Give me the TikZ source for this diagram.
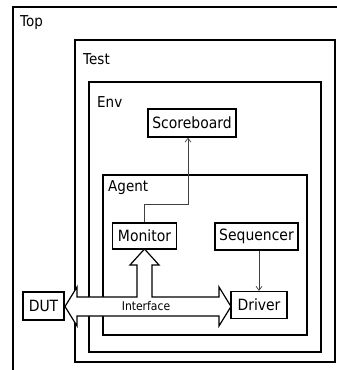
\documentclass[tikz,border=0pt]{standalone}
\usepackage{fontspec}
\setmainfont{DejaVu Sans}[FakeStretch=0.9]
\usetikzlibrary{arrows.meta}
\begin{document}
\begin{tikzpicture}[x=1pt,y=-1pt,
  frame/.style={draw=black,line width=1.3pt},
  blk/.style={draw=black,line width=1.2pt,fill=white,inner sep=0pt,font=\fontsize{15.5}{17}\selectfont},
  lbl/.style={anchor=base west,inner sep=0pt,font=\fontsize{15}{17}\selectfont},
  conn/.style={draw=black!75,line width=0.7pt,-{Straight Barb[length=4pt,width=6pt]}},
  bigarrow/.style={draw=black,line width=1.2pt,fill=white,line join=miter}]
\useasboundingbox (0,0) rectangle (337,370);
\clip (0,0) rectangle (337,370);
\fill[white] (0,0) rectangle (337,370);
% frames
\draw[frame] (13,7) rectangle (360,390);
\draw[frame] (75,40) rectangle (335,362);
\draw[frame] (89,82) rectangle (321,352);
\draw[frame] (103,175) rectangle (307,335);
\node[lbl] (ltop) at (20,26) {Top};
\node[lbl] (ltest) at (83,64) {Test};
\node[lbl] (lenv) at (97,107) {Env};
\node[lbl] (lagent) at (108,191) {Agent};
% block arrow (interface)
\draw[bigarrow] (65,306.5) -- (77,287) -- (77,297) -- (137,297) -- (137,265) -- (130,265)
  -- (144.5,249) -- (159,265) -- (152,265) -- (152,297) -- (219,297) -- (219,287)
  -- (231,306.5) -- (219,326) -- (219,316) -- (77,316) -- (77,326) -- cycle;
\node[inner sep=0pt,font=\fontsize{12}{14}\selectfont] (iface) at (146,306) {Interface};
% blocks
\node[blk,minimum width=88pt,minimum height=28pt] (sb) at (192,123) {Scoreboard};
\node[blk,minimum width=64pt,minimum height=26pt] (mon) at (144.5,236) {Monitor};
\node[blk,minimum width=83pt,minimum height=27pt] (seq) at (256.5,236.5) {Sequencer};
\node[blk,minimum width=56pt,minimum height=27pt] (drv) at (259,305) {Driver};
\node[blk,minimum width=41pt,minimum height=28pt] (dut) at (43.5,306) {DUT};
% connectors
\coordinate (bend) at (188,204);
\draw[conn] (mon.north) |- (bend) -- (bend |- sb.south);
\draw[conn] (drv.north |- seq.south) -- (drv.north);
\end{tikzpicture}
\end{document}
